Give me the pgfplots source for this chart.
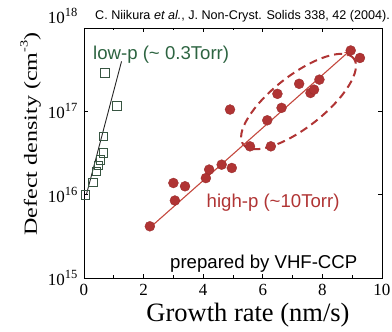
\documentclass[border=0pt]{standalone}
\usepackage{fontspec}
\setmainfont{Liberation Serif}
\newfontfamily\arial{Liberation Sans}
\usepackage{graphicx}
\usepackage{pgfplots}
\pgfplotsset{compat=1.18}
\usetikzlibrary{arrows.meta}
\definecolor{redpt}{RGB}{176,52,52}
\definecolor{redln}{RGB}{196,72,62}
\definecolor{grntx}{RGB}{45,100,65}
\definecolor{sqcol}{RGB}{55,85,65}
\newcommand{\sups}[1]{\raisebox{0.42em}{\fontsize{12.5}{13}\selectfont #1}}

\pgfplotstableread{
x y
2.21 4.17e15
3.00 1.38e16
3.39 1.26e16
3.05 8.5e15
4.09 1.58e16
4.20 2.0e16
4.62 2.29e16
4.96 2.09e16
4.90 1.05e17
5.57 3.8e16
6.27 3.8e16
6.15 7.8e16
6.63 1.10e17
6.49 1.62e17
7.22 2.14e17
7.60 1.66e17
7.72 1.82e17
7.90 2.4e17
8.95 5.37e17
9.26 4.37e17
}\highp

\pgfplotstableread{
x y
0.05 1.0e16
0.30 1.41e16
0.42 1.9e16
0.48 2.24e16
0.55 2.6e16
0.65 3.16e16
0.65 5.0e16
1.10 1.17e17
0.70 2.9e17
}\lowp

\begin{document}
\begin{tikzpicture}
\begin{axis}[
  at={(0,0)}, anchor=south west,
  scale only axis, width=298pt, height=250pt,
  xmin=0, xmax=10, ymin=1e15, ymax=1e18, ymode=log,
  xtick={0,2,4,6,8,10}, xticklabels={0,2,4,6,8,10},
  minor xtick={1,3,5,7,9},
  ytick={1e15,1e16,1e17}, yticklabels={10\sups{15},10\sups{16},10\sups{17}},
  extra y ticks={1e18}, extra y tick labels={10\sups{18}},
  extra y tick style={grid=none, yticklabel style={yshift=12pt}},
  yminorticks=false,
  tick align=inside, major tick length=4pt, minor tick length=2.5pt,
  tick style={black, line width=0.6pt},
  axis line style={line width=0.8pt},
  ticklabel style={font=\fontsize{17}{17}\selectfont},
  xticklabel style={yshift=-3pt},
  yticklabel style={xshift=-3pt},
  clip=false,
]
\draw[redpt, line width=2pt, dash pattern=on 8pt off 5pt] (axis cs:7.20,1.31e17) circle [x radius=70pt, y radius=26pt, rotate=38];
\addplot[only marks, mark=square, mark size=4.3pt, mark options={draw=sqcol, line width=0.8pt}] table {\lowp};
\addplot[black!85, line width=0.9pt] coordinates {(0.08,1.0e16) (1.26,3.98e17)};
\addplot[redln, line width=1.1pt, -{Stealth[length=6pt,width=5pt]}] coordinates {(2.2,3.98e15) (8.93,5.37e17)};
\addplot[only marks, mark=*, mark size=5pt, mark options={fill=redpt, draw=redpt!85!black, line width=0.3pt}] table {\highp};
\end{axis}
\node[anchor=base west, inner sep=0, font=\arial\fontsize{18.6}{19}\selectfont, text=grntx] at (9pt,218pt) {low-p (\textasciitilde\ 0.3Torr)};
\node[anchor=base west, inner sep=0, font=\arial\fontsize{18.6}{19}\selectfont, text=redpt] at (122.5pt,70pt) {high-p (\textasciitilde10Torr)};
\node[anchor=base west, inner sep=0, font=\arial\fontsize{18.6}{19}\selectfont] at (86pt,9pt) {prepared by VHF-CCP};
\node[anchor=base east, inner sep=0, font=\arial\fontsize{12.6}{13}\selectfont] at (306pt,258pt) {C. Niikura \textit{et al.}, J. Non-Cryst. Solids 338, 42 (2004).};
\node[anchor=base, inner sep=0, font=\fontsize{26.5}{27}\selectfont] at (164pt,-44pt) {Growth rate (nm/s)};
\node[anchor=base, inner sep=0, rotate=90, font=\fontsize{18.5}{19}\selectfont] at (-47pt,144pt) {\scalebox{1.3}[1]{Defect density (cm\raisebox{0.5em}{\fontsize{11}{11}\selectfont -3})}};
\pgfresetboundingbox
\path[use as bounding box] (-84pt,-54pt) rectangle (308pt,278pt);
\end{tikzpicture}
\end{document}
